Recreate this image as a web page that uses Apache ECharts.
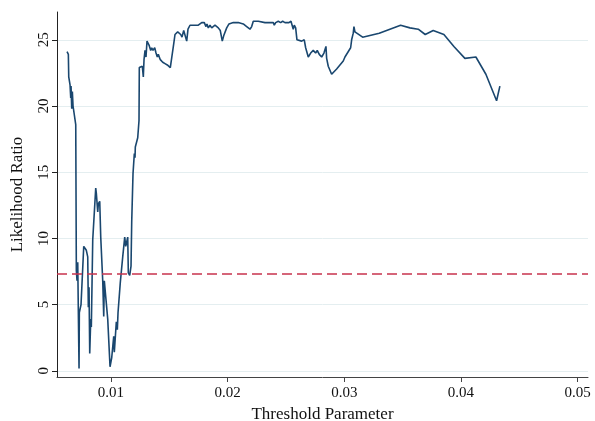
<!DOCTYPE html>
<html>
<head>
<meta charset="utf-8">
<script src="https://cdn.jsdelivr.net/npm/echarts@6/dist/echarts.min.js"></script>
<style>
  html, body { margin: 0; padding: 0; background: #fff; }
  #chart { width: 595px; height: 421px; }
</style>
</head>
<body>
<div id="chart"></div>
<script>
// Threshold parameter grid (x) and the likelihood ratio statistic at each value (y)
const thresholds = [
  0.006231, 0.006343, 0.006377, 0.006488, 0.006548, 0.006574, 0.006634, 0.006686, 0.006746, 0.006977,
  0.007028, 0.007088, 0.007148, 0.007260, 0.007285, 0.007431, 0.007663, 0.007885, 0.008005, 0.008057,
  0.008117, 0.008177, 0.008263, 0.008314, 0.008434, 0.008691, 0.008743, 0.008863, 0.008914, 0.009034,
  0.009120, 0.009206, 0.009291, 0.009377, 0.009428, 0.009548, 0.009720, 0.009917, 0.010063, 0.010234,
  0.010285, 0.010457, 0.010543, 0.010603, 0.010688, 0.010800, 0.011005, 0.011177, 0.011263, 0.011434,
  0.011485, 0.011605, 0.011717, 0.011777, 0.011888, 0.012000, 0.012060, 0.012085, 0.012291, 0.012402,
  0.012428, 0.012685, 0.012771, 0.012831, 0.012917, 0.013002, 0.013088, 0.013260, 0.013405, 0.013491,
  0.013603, 0.013748, 0.013860, 0.013971, 0.014057, 0.014228, 0.014434, 0.014631, 0.014828, 0.015085,
  0.015377, 0.015488, 0.015719, 0.015857, 0.015977, 0.016088, 0.016234, 0.016345, 0.016491, 0.016602,
  0.016774, 0.016919, 0.017202, 0.017485, 0.017777, 0.018000, 0.018145, 0.018231, 0.018342, 0.018488,
  0.018634, 0.018745, 0.018917, 0.019200, 0.019371, 0.019542, 0.019662, 0.019774, 0.019920, 0.020117,
  0.020485, 0.020914, 0.021342, 0.021634, 0.021917, 0.022062, 0.022200, 0.022628, 0.023202, 0.023631,
  0.023914, 0.024000, 0.024119, 0.024342, 0.024548, 0.024720, 0.024917, 0.025088, 0.025259, 0.025431,
  0.025542, 0.025628, 0.025714, 0.025834, 0.025945, 0.026057, 0.026348, 0.026571, 0.026691, 0.026914,
  0.027120, 0.027342, 0.027548, 0.027685, 0.027857, 0.028062, 0.028259, 0.028431, 0.028491, 0.028628,
  0.028919, 0.029348, 0.029914, 0.030060, 0.030548, 0.030634, 0.030771, 0.030831, 0.030917, 0.031577,
  0.033000, 0.033916, 0.034833, 0.035631, 0.036342, 0.036942, 0.037628, 0.038545, 0.039402, 0.040345,
  0.041288, 0.042145, 0.043062, 0.043345
];
const lrStat = [
  24.1, 23.9, 22.2, 21.6, 20.6, 21.5, 19.8, 21.1, 20.0, 18.6,
  7.6, 6.8, 8.2, 0.17, 4.4, 5.0, 9.4, 9.1, 8.6, 4.8,
  6.3, 1.3, 3.9, 3.3, 9.9, 13.8, 13.4, 12.0, 12.6, 12.8,
  10.1, 10.0, 6.8, 4.1, 6.8, 5.6, 3.9, 0.3, 1.0, 2.6,
  1.4, 3.7, 3.1, 4.4, 4.4, 6.7, 8.6, 10.1, 9.4, 10.1,
  7.4, 7.2, 7.9, 11.3, 14.9, 16.4, 16.1, 16.9, 17.6, 18.9,
  22.9, 23.0, 22.2, 23.5, 24.2, 23.7, 24.9, 24.6, 24.2, 24.4,
  24.2, 24.4, 24.0, 23.7, 23.9, 23.5, 23.3, 23.2, 23.1, 22.9,
  24.7, 25.4, 25.6, 25.6, 25.4, 25.2, 25.7, 25.6, 24.9, 25.8,
  26.1, 26.0, 26.1, 26.1, 26.3, 26.3, 26.0, 26.2, 25.9, 26.1,
  25.9, 26.0, 26.1, 25.9, 25.7, 24.9, 25.3, 25.4, 25.9, 26.2,
  26.3, 26.3, 26.2, 26.0, 25.8, 26.0, 26.4, 26.4, 26.3, 26.3,
  26.3, 26.1, 26.3, 26.4, 26.3, 26.4, 26.3, 26.3, 26.3, 26.4,
  26.3, 25.8, 26.1, 25.9, 25.0, 25.1, 24.9, 25.0, 24.4, 23.7,
  24.0, 24.2, 24.0, 24.2, 23.9, 23.7, 24.0, 24.5, 23.6, 23.0,
  22.4, 22.8, 23.4, 23.7, 24.4, 25.0, 25.5, 26.0, 25.6, 25.2,
  25.5, 25.8, 26.1, 25.9, 25.8, 25.4, 25.7, 25.4, 24.5, 23.6,
  23.7, 22.4, 20.4, 21.5
];
// 5% critical value
const criticalValue = 7.35;
const xTicks = [0.01, 0.02, 0.03, 0.04, 0.05];
const yTicks = [0, 5, 10, 15, 20, 25];

const FONT = '"Liberation Serif", "Times New Roman", serif';
const chart = echarts.init(document.getElementById('chart'), null, { renderer: 'canvas' });

chart.setOption({
  animation: false,
  backgroundColor: '#ffffff',
  grid: { left: 57, right: 7, top: 12, bottom: 44, containLabel: false, outerBoundsMode: 'none' },
  xAxis: {
    type: 'value',
    min: 0.00537,
    max: 0.0509,
    name: 'Threshold Parameter',
    nameLocation: 'middle',
    nameGap: 26,
    nameTextStyle: { fontFamily: FONT, fontSize: 17, color: '#111' },
    axisLine: { show: true, onZero: false, lineStyle: { color: '#444', width: 1 } },
    axisTick: { show: true, length: 5, customValues: xTicks, lineStyle: { color: '#444' } },
    axisLabel: {
      customValues: xTicks,
      margin: 9,
      fontFamily: FONT, fontSize: 15, color: '#111',
      formatter: v => v.toFixed(2)
    },
    splitLine: { show: false }
  },
  yAxis: {
    type: 'value',
    min: -0.47,
    max: 27.1,
    name: 'Likelihood Ratio',
    nameLocation: 'middle',
    nameGap: 31,
    nameTextStyle: { fontFamily: FONT, fontSize: 17, color: '#111' },
    axisLine: { show: true, onZero: false, lineStyle: { color: '#222', width: 1 } },
    axisTick: { show: true, length: 5, customValues: yTicks, lineStyle: { color: '#222' } },
    axisLabel: {
      customValues: yTicks,
      rotate: 90,
      margin: 5,
      fontFamily: FONT, fontSize: 15, color: '#111'
    },
    splitLine: { show: true, lineStyle: { color: '#e4eef0', width: 1 } }
  },
  series: [{
    type: 'line',
    data: thresholds.map((x, i) => [x, lrStat[i]]),
    showSymbol: false,
    symbol: 'none',
    lineStyle: { color: '#1a476f', width: 1.6 },
    z: 3,
    markLine: {
      silent: true,
      symbol: ['none', 'none'],
      label: { show: false },
      lineStyle: { color: '#c8334d', width: 1.5, type: [10, 5] },
      data: [{ yAxis: criticalValue }]
    }
  }]
});
</script>
</body>
</html>
